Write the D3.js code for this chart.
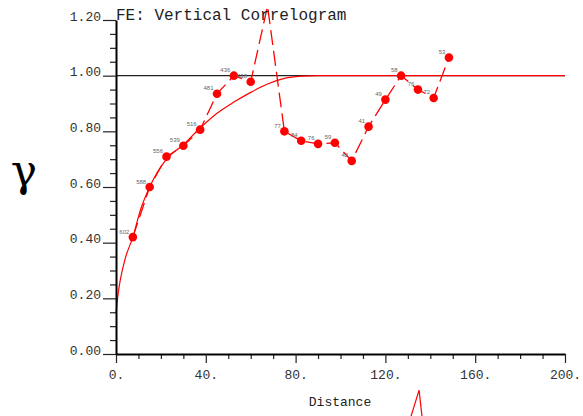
<!DOCTYPE html>
<html>
<head>
<meta charset="utf-8">
<script src="https://cdn.jsdelivr.net/npm/d3@7"></script>
<style>
  html, body { margin: 0; padding: 0; background: #fff; }
  svg { display: block; }
</style>
</head>
<body>
<svg id="chart" width="583" height="416"></svg>
<script>
// ---- data ----
const lagDist   = [7.5, 15, 22.5, 30, 37.5, 45, 52.5, 60, 67.5, 75, 82.5, 90, 97.5, 105, 112.5, 120, 127, 134.5, 141.5, 148.3];
const lagGamma  = [0.42, 0.60, 0.709, 0.748, 0.806, 0.935, 1.00, 0.978, 1.25, 0.80, 0.766, 0.755, 0.759, 0.694, 0.817, 0.914, 1.00, 0.95, 0.92, 1.065];
const lagPairs  = ["602", "588", "556", "539", "516", "481", "436", "418", "", "77", "84", "76", "59", "42", "41", "49", "58", "76", "72", "53"];

const modelDist  = [0, 1, 2, 4, 7.5, 11, 15, 22.5, 30, 37.5, 45, 52.5, 60, 67.5, 75, 82.5, 90, 200];
const modelGamma = [0.147, 0.22, 0.27, 0.34, 0.42, 0.52, 0.60, 0.70, 0.752, 0.812, 0.865, 0.905, 0.94, 0.97, 0.99, 0.998, 1.0, 1.0];

const wedgeDist  = [131.4, 135, 136.3];
const wedgeGamma = [-0.224, -0.13, -0.224];

const sill = 1.0;
const xMajor = [0, 40, 80, 120, 160, 200];
const xMinor = [10, 20, 30, 50, 60, 70, 90, 100, 110, 130, 140, 150, 170, 180, 190];
const yMajor = [0, 0.2, 0.4, 0.6, 0.8, 1.0, 1.2];
const yMinor = [0.05, 0.1, 0.15, 0.25, 0.3, 0.35, 0.45, 0.5, 0.55, 0.65, 0.7, 0.75, 0.85, 0.9, 0.95, 1.05, 1.1, 1.15];

const titleText = "FE: Vertical Correlogram";
const xLabel = "Distance";
const yLabel = "\u03B3";

// ---- drawing ----
const svg = d3.select("#chart");
const mono = "'Liberation Mono', 'Courier New', monospace";
const x = d3.scaleLinear().domain([0, 200]).range([116, 565]);
const y = d3.scaleLinear().domain([0, 1.2]).range([354, 20]);

// sill line
svg.append("line")
  .attr("x1", x(0)).attr("x2", x(200))
  .attr("y1", y(sill)).attr("y2", y(sill))
  .attr("stroke", "#222").attr("stroke-width", 1.3);

// model curve
svg.append("path")
  .attr("d", d3.line().x((d) => x(d[0])).y((d) => y(d[1])).curve(d3.curveMonotoneX)(modelDist.map((d, i) => [d, modelGamma[i]])))
  .attr("fill", "none").attr("stroke", "#ff0000").attr("stroke-width", 1.2);

// experimental dashed line
svg.append("path")
  .attr("d", d3.line().x((d) => x(d[0])).y((d) => y(d[1]))(lagDist.map((d, i) => [d, lagGamma[i]])))
  .attr("fill", "none").attr("stroke", "#ff0000").attr("stroke-width", 1.3)
  .attr("stroke-dasharray", "15,6");

// off-scale wedge
svg.append("path")
  .attr("d", d3.line().x((d) => x(d[0])).y((d) => y(d[1]))(wedgeDist.map((d, i) => [d, wedgeGamma[i]])))
  .attr("fill", "none").attr("stroke", "#ff0000").attr("stroke-width", 1.2);

// markers and pair counts (only points within plotted range)
const pts = lagDist.map((d, i) => ({ d, g: lagGamma[i], n: lagPairs[i] })).filter((p) => p.g <= 1.2 && p.g >= 0);
svg.append("g").selectAll("circle").data(pts).join("circle")
  .attr("cx", (p) => x(p.d)).attr("cy", (p) => y(p.g)).attr("r", 4.3)
  .attr("fill", "#ff0000");
svg.append("g").selectAll("text").data(pts).join("text")
  .attr("x", (p) => x(p.d) - 3.5).attr("y", (p) => y(p.g) - 3.5)
  .attr("text-anchor", "end")
  .attr("font-family", "'Liberation Sans', Arial, sans-serif")
  .attr("font-size", 6).attr("fill", "#666")
  .text((p) => p.n);

// axes
function styleAxis(g) {
  g.selectAll("path.domain").attr("stroke", "#000").attr("stroke-width", 2);
  g.selectAll(".tick line").attr("stroke", "#222").attr("stroke-width", 1.2);
  g.selectAll(".tick text").attr("font-family", mono).attr("font-size", 13).attr("fill", "#333");
}
const gxMinor = svg.append("g").attr("transform", `translate(0,${y(0)})`)
  .call(d3.axisBottom(x).tickValues(xMinor).tickSize(5).tickFormat(""));
gxMinor.select("path.domain").remove();
gxMinor.selectAll(".tick line").attr("stroke", "#222").attr("stroke-width", 1.2);

const gyMinor = svg.append("g").attr("transform", `translate(${x(0)},0)`)
  .call(d3.axisLeft(y).tickValues(yMinor).tickSize(6).tickFormat(""));
gyMinor.select("path.domain").remove();
gyMinor.selectAll(".tick line").attr("stroke", "#222").attr("stroke-width", 1.2);

const gx = svg.append("g").attr("transform", `translate(0,${y(0)})`)
  .call(d3.axisBottom(x).tickValues(xMajor).tickSize(9).tickSizeOuter(0).tickPadding(7)
    .tickFormat((d) => d + "."));
styleAxis(gx);

const gy = svg.append("g").attr("transform", `translate(${x(0)},0)`)
  .call(d3.axisLeft(y).tickValues(yMajor).tickSize(13).tickSizeOuter(0).tickPadding(2)
    .tickFormat(d3.format(".2f")));
styleAxis(gy);
gy.selectAll(".tick text").attr("dy", "0");

// title
svg.append("text").attr("x", 116).attr("y", 20)
  .attr("font-family", mono).attr("font-size", 16).attr("fill", "#222")
  .text(titleText);

// axis titles
svg.append("text").attr("x", 340).attr("y", 406).attr("text-anchor", "middle")
  .attr("font-family", mono).attr("font-size", 13).attr("fill", "#222")
  .text(xLabel);
svg.append("text").attr("x", 24).attr("y", 186).attr("text-anchor", "middle")
  .attr("font-family", "'DejaVu Serif', serif").attr("font-size", 44).attr("fill", "#000")
  .text(yLabel);
</script>
</body>
</html>
